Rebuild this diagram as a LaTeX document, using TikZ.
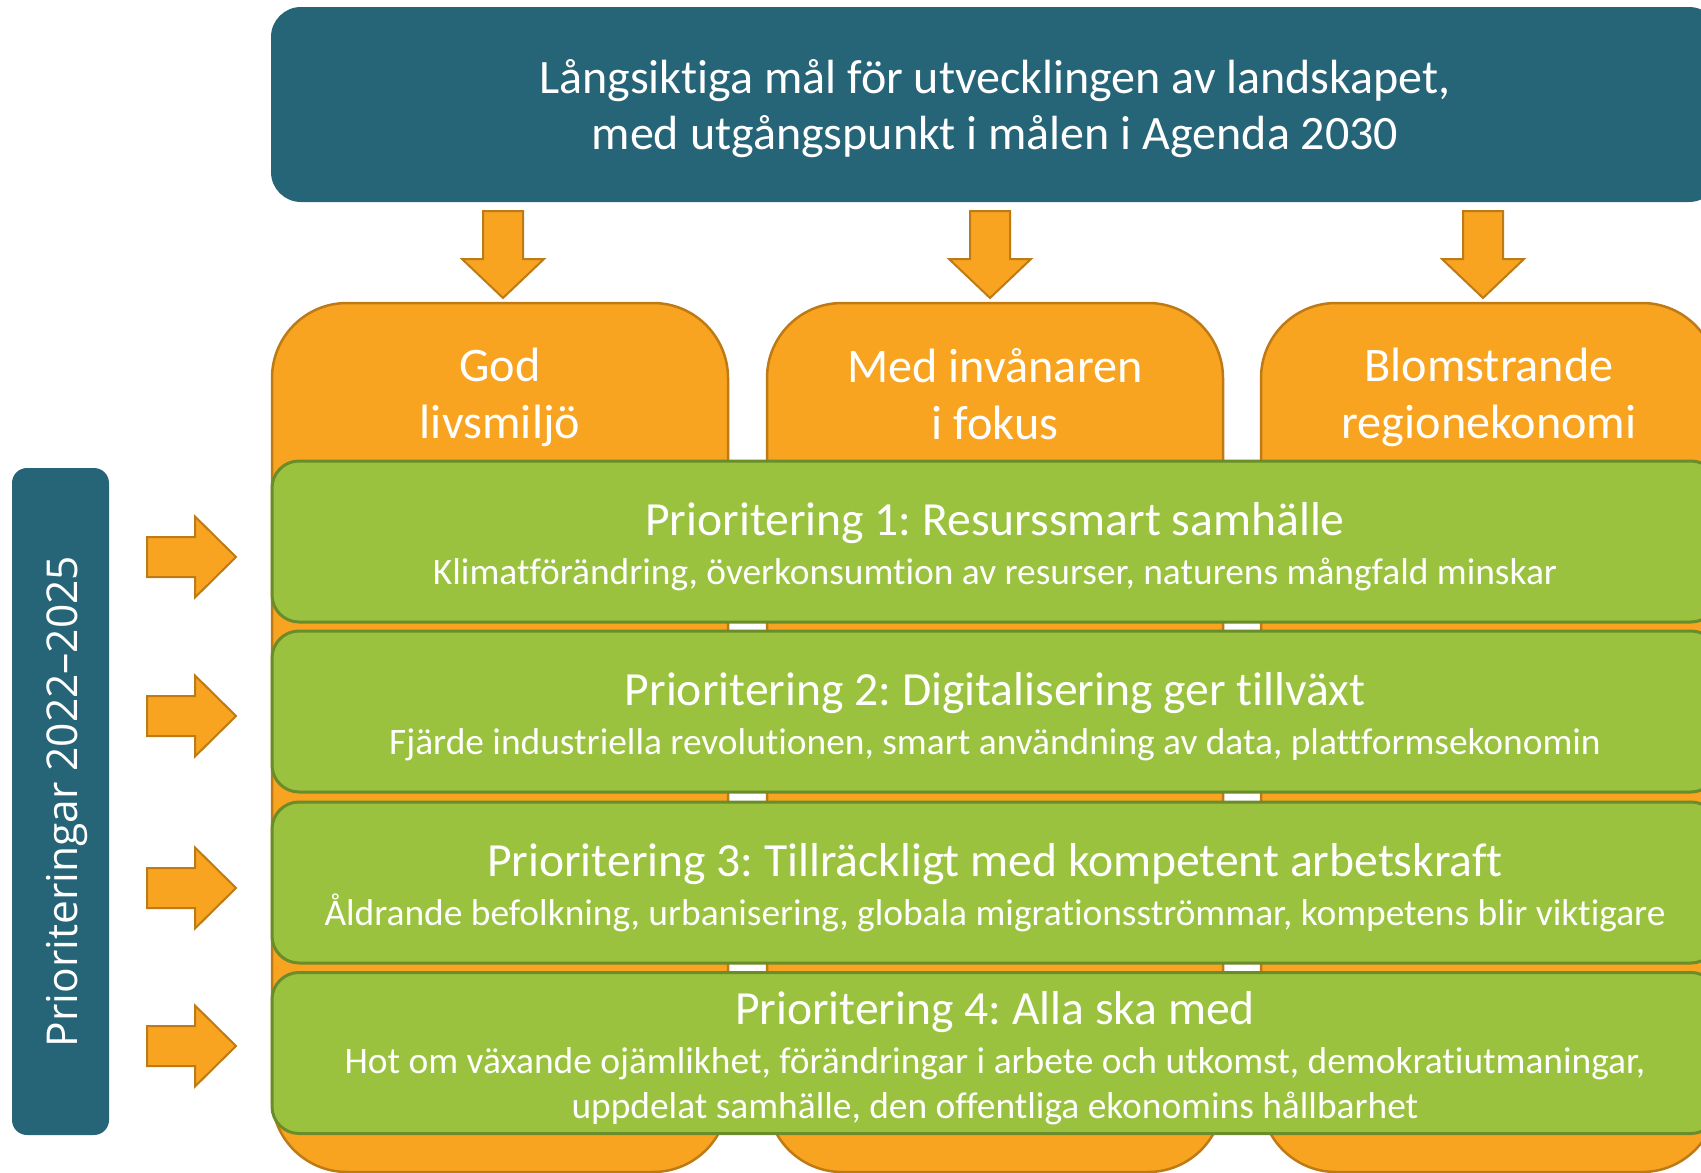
\documentclass[tikz,border=0pt]{standalone}
\usepackage{fontspec}
\setmainfont{Carlito}[Ligatures=NoCommon]
\newfontfamily\sidtext{Open Sans}
\usepackage{tikz}
\frenchspacing

\definecolor{petrol}{HTML}{266578}
\definecolor{orangefyll}{HTML}{F8A421}
\definecolor{orangekant}{HTML}{BE7A14}
\definecolor{gronfyll}{HTML}{9AC23F}
\definecolor{gronkant}{HTML}{6B8C2A}
\newcommand{\luft}{\rule{0pt}{43pt}}
\newcommand{\priotitel}[1]{{\fontsize{47.6}{45}\selectfont\luft #1}}

\begin{document}
\begin{tikzpicture}[x=1pt, y=-1pt,
    kolumn/.style={fill=orangefyll, draw=orangekant, line width=2.5pt, rounded corners=75pt},
    pil/.style={fill=orangefyll, draw=orangekant, line width=2pt},
    rubrik/.style={text=white, align=center, inner sep=0pt, font=\fontsize{48.2}{57}\selectfont},
    prio/.style={rectangle, rounded corners=27pt, fill=gronfyll, draw=gronkant, line width=3pt,
      minimum width=1446pt, minimum height=161pt, text=white, align=center, inner sep=0pt,
      font=\fontsize{37.4}{45}\selectfont}]
  \path[use as bounding box, clip] (0,0) rectangle (1701,1173);
  % mål
  \node[rubrik, rectangle, fill=petrol, rounded corners=30pt, minimum width=1448pt,
    minimum height=195pt, font=\fontsize{48}{56}\selectfont] (mal) at (995,104.5)
    {\luft Långsiktiga mål för utvecklingen av landskapet,\\med utgångspunkt i målen i Agenda 2030};
  % pilar ned
  \foreach \x in {503,990,1483}
    \filldraw[pil] (\x-20,211) -- (\x+20,211) -- (\x+20,259) -- (\x+41,259) -- (\x,298)
      -- (\x-41,259) -- (\x-20,259) -- cycle;
  % kolumner
  \foreach \x in {272,767,1261}
    \filldraw[kolumn] (\x,303) rectangle (\x+456,1172);
  \node[rubrik, anchor=north] (kol1) at (500,348) {God\\livsmiljö};
  \node[rubrik, anchor=north] (kol2) at (995,348) {Med invånaren\\i fokus};
  \node[rubrik, anchor=north] (kol3) at (1489,348) {Blomstrande\\regionekonomi};
  % prioriteringar
  \node[prio] (p1) at (995,541.5) {\priotitel{Prioritering 1: Resurssmart samhälle}\\[4pt]
    Klimatförändring, överkonsumtion av resurser, naturens mångfald minskar};
  \node[prio] (p2) at (995,711.5) {\priotitel{Prioritering 2: Digitalisering ger tillväxt}\\[4pt]
    Fjärde industriella revolutionen, smart användning av data, plattformsekonomin};
  \node[prio] (p3) at (995,882.5) {\priotitel{Prioritering 3: Tillräckligt med kompetent arbetskraft}\\[4pt]
    Åldrande befolkning, urbanisering, globala migrationsströmmar, kompetens blir viktigare};
  \node[prio] (p4) at (995,1053) {\priotitel{Prioritering 4: Alla ska med}\\[4pt]
    Hot om växande ojämlikhet, förändringar i arbete och utkomst, demokratiutmaningar,\\
    uppdelat samhälle, den offentliga ekonomins hållbarhet};
  % period
  \node[fill=petrol, rounded corners=15pt, minimum width=97pt, minimum height=667pt] (period) at (60.5,801.5) {};
  \node[rotate=90, anchor=base, text=white, inner sep=0pt, font=\sidtext\fontsize{42.5}{50}\selectfont]
    (periodtext) at (77.5,801.5) {Prioriteringar 2022–2025};
  % pilar höger
  \foreach \y in {557,716,888,1046}
    \filldraw[pil] (147,\y-20) -- (195,\y-20) -- (195,\y-40.5) -- (236,\y) -- (195,\y+40.5)
      -- (195,\y+20) -- (147,\y+20) -- cycle;
\end{tikzpicture}
\end{document}
